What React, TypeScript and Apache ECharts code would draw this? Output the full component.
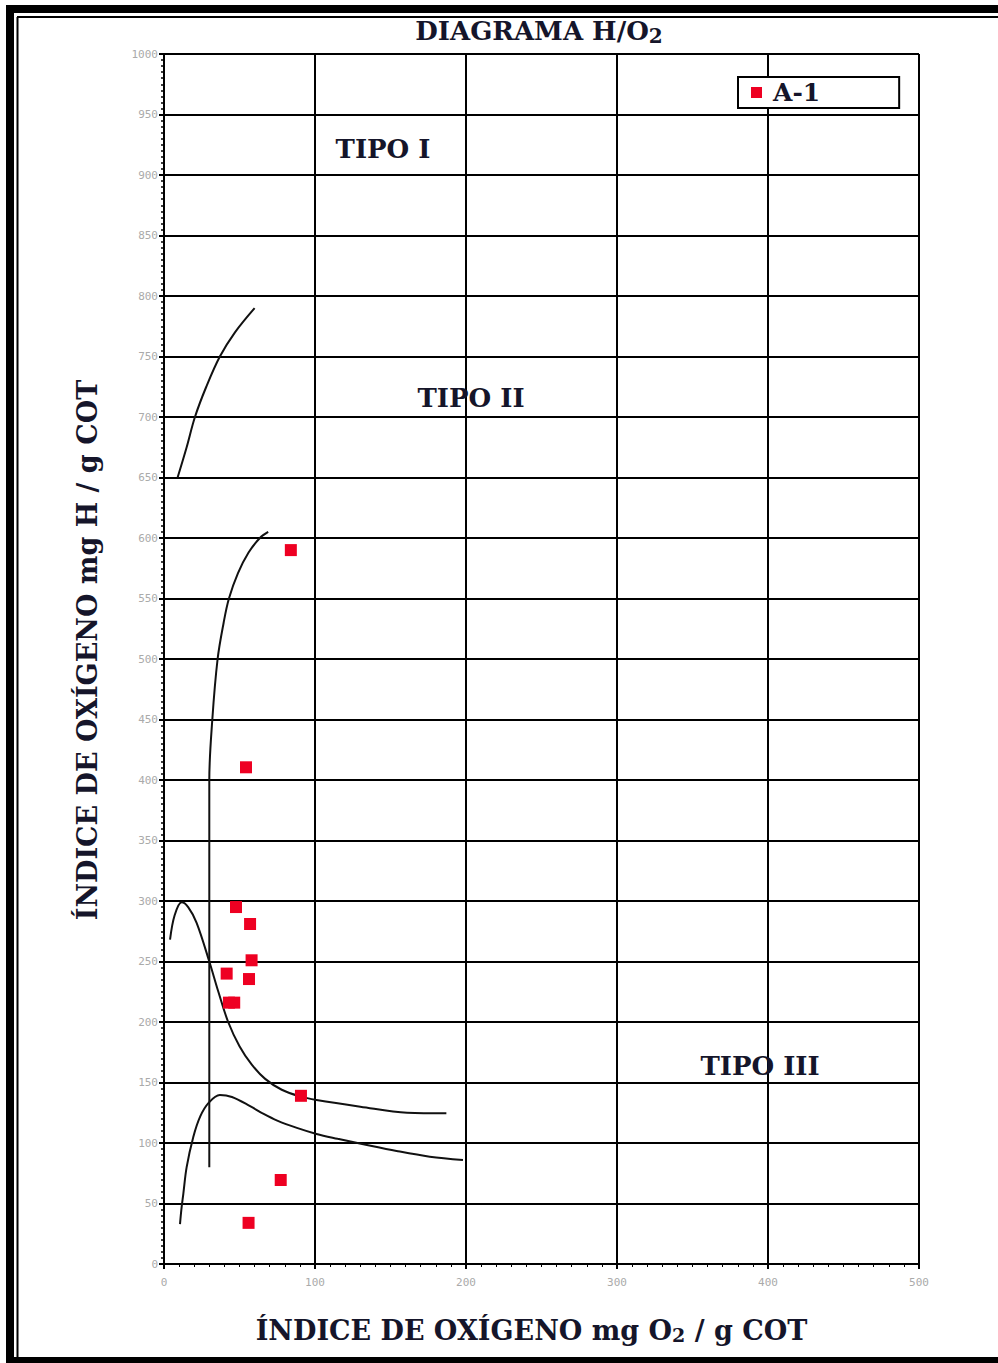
import React, { useEffect, useRef } from "react";
import * as echarts from "echarts";

// Boundary curves (x: oxygen index, y: hydrogen index)
const curveTipoI: number[][] = [[9, 650], [15, 675], [20.5, 700], [28, 725], [37, 750], [47, 770], [60, 790]];
const curveTipoII: number[][] = [[30, 80], [30, 300], [30, 400], [32, 450], [35.5, 500], [39.5, 530], [43, 550], [49, 571], [56, 588], [63.5, 600], [69, 605]];
const curveTipoIIIa: number[][] = [[4, 268], [7, 288], [11.7, 299], [16, 295], [21.6, 282], [30, 250], [36, 225], [42.5, 200], [50, 180], [58, 165], [67, 153], [78, 144], [90, 138.5], [101, 135.5], [130, 130], [161, 125], [187, 124.5]];
const curveTipoIIIb: number[][] = [[10.6, 33], [11.5, 45], [12.8, 58], [15, 80], [19.4, 105], [24, 122], [29.4, 133], [37, 139.7], [45, 138], [57, 130.5], [66, 124], [75, 118.5], [88, 112.5], [101, 107.5], [115, 103.5], [132, 99], [154, 93.4], [176, 88.7], [198, 86]];

// Samples A-1
const sampleName = "A-1";
const samplesA1: number[][] = [[84, 590], [54.3, 410.5], [47.7, 295], [57, 281], [58, 251], [41.5, 240], [56.3, 235.5], [43, 216], [46.5, 216], [90.7, 139], [77.3, 69.4], [56, 34]];

const typeLabels = ["TIPO I", "TIPO II", "TIPO III"];

const SERIF = "'DejaVu Serif', 'Liberation Serif', serif";
const INK = "#15152a";

export default function App() {
  const ref = useRef<HTMLDivElement>(null);
  useEffect(() => {
    if (!ref.current) return;
    const chart = echarts.init(ref.current, null, { renderer: "svg" });
    const curveStyle = { color: "#111", width: 2 };
    const mkCurve = (data: number[][]) => ({
      type: "line",
      data,
      smooth: 0.35,
      showSymbol: false,
      symbol: "none",
      lineStyle: curveStyle,
      silent: true,
      z: 3,
    });
    const typeText = (text: string, x: number, y: number) => ({
      type: "text",
      x,
      y,
      z: 10,
      style: { text, fontFamily: SERIF, fontWeight: "bold", fontSize: 26, fill: INK, align: "center", verticalAlign: "middle" },
    });
    chart.setOption({
      animation: false,
      backgroundColor: "#fff",
      title: {
        text: "DIAGRAMA H/O{sub|2}",
        left: 534,
        textAlign: "center",
        top: 11,
        textStyle: {
          fontFamily: SERIF,
          fontWeight: "bold",
          fontSize: 26,
          color: INK,
          rich: {
            sub: { fontFamily: SERIF, fontWeight: "bold", fontSize: 20, color: INK, padding: [10, 0, 0, 0] },
          },
        },
      },
      legend: {
        left: 738,
        top: 77,
        icon: "rect",
        itemWidth: 11,
        itemHeight: 11,
        itemGap: 5,
        borderColor: "#000",
        borderWidth: 2,
        padding: [3, 79, 3, 13],
        backgroundColor: "#fff",
        textStyle: { fontFamily: SERIF, fontWeight: "bold", fontSize: 25, color: INK, padding: [0, 0, 0, 6] },
        data: [sampleName],
      },
      grid: { left: 164, right: 79, top: 54, bottom: 99 },
      xAxis: {
        type: "value",
        min: 0,
        max: 500,
        interval: 100,
        name: "ÍNDICE DE OXÍGENO mg O{sub|2} / g COT",
        nameLocation: "middle",
        nameGap: 52,
        nameTextStyle: {
          fontFamily: SERIF,
          fontWeight: "bold",
          fontSize: 27,
          color: INK,
          padding: [0, 20, 0, 0],
          rich: {
            sub: { fontFamily: SERIF, fontWeight: "bold", fontSize: 19, color: INK, padding: [9, 0, 0, 0] },
          },
        },
        axisLine: { lineStyle: { color: "#000", width: 2 } },
        axisTick: { show: true, length: 5, lineStyle: { color: "#000", width: 2 } },
        minorTick: { show: true, splitNumber: 10, length: 3, lineStyle: { color: "#000", width: 1 } },
        axisLabel: { color: "#aaa", fontSize: 11, fontFamily: "'DejaVu Sans Mono', monospace", margin: 13 },
        splitLine: { show: true, lineStyle: { color: "#000", width: 2 } },
      },
      yAxis: {
        type: "value",
        min: 0,
        max: 1000,
        interval: 50,
        name: "ÍNDICE DE OXÍGENO mg H / g COT",
        nameLocation: "middle",
        nameGap: 63,
        nameTextStyle: { fontFamily: SERIF, fontWeight: "bold", fontSize: 27, color: INK, padding: [0, 0, 0, 18] },
        axisLine: { show: true, lineStyle: { color: "#000", width: 2 } },
        axisTick: { show: true, length: 5, lineStyle: { color: "#000", width: 2 } },
        minorTick: { show: true, splitNumber: 10, length: 3, lineStyle: { color: "#000", width: 1.5 } },
        axisLabel: { color: "#aaa", fontSize: 11, fontFamily: "'DejaVu Sans Mono', monospace", margin: 6, formatter: (v: number) => String(v) },
        splitLine: { show: true, lineStyle: { color: "#000", width: 2 } },
      },
      series: [
        mkCurve(curveTipoI),
        mkCurve(curveTipoII),
        mkCurve(curveTipoIIIa),
        mkCurve(curveTipoIIIb),
        {
          type: "scatter",
          name: sampleName,
          data: samplesA1,
          symbol: "rect",
          symbolSize: 12,
          itemStyle: { color: "#ee0022", opacity: 1 },
          z: 5,
        },
      ],
      graphic: [
        // frame
        { type: "rect", z: 100, shape: { x: 6, y: 5, width: 992, height: 8 }, style: { fill: "#000" }, silent: true },
        { type: "rect", z: 100, shape: { x: 6, y: 5, width: 8, height: 1358 }, style: { fill: "#000" }, silent: true },
        { type: "rect", z: 100, shape: { x: 6, y: 1357, width: 992, height: 6 }, style: { fill: "#000" }, silent: true },
        { type: "rect", z: 99, shape: { x: 14, y: 13, width: 984, height: 3 }, style: { fill: "#fff" }, silent: true },
        { type: "line", z: 100, shape: { x1: 17, y1: 17, x2: 998, y2: 17 }, style: { stroke: "#000", lineWidth: 2 }, silent: true },
        { type: "line", z: 100, shape: { x1: 17.5, y1: 17, x2: 17.5, y2: 1357 }, style: { stroke: "#000", lineWidth: 2 }, silent: true },
        // type labels
        typeText(typeLabels[0], 383, 149),
        typeText(typeLabels[1], 471, 398),
        typeText(typeLabels[2], 760, 1066),
      ],
    });
    return () => chart.dispose();
  }, []);
  return <div ref={ref} style={{ position: "absolute", left: 0, top: 0, width: 998, height: 1363 }} />;
}
